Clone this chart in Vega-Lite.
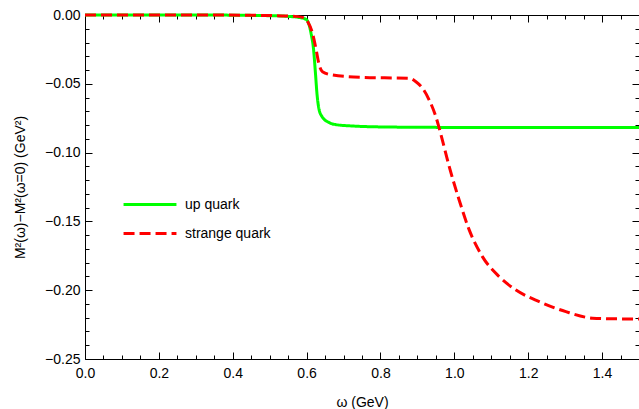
{
  "$schema": "https://vega.github.io/schema/vega-lite/v6.json",
  "width": 554,
  "height": 344,
  "autosize": {"type": "none"},
  "padding": {"left": 85, "top": 15, "right": 0, "bottom": 50},
  "background": "white",
  "config": {
    "view": {"stroke": "#000", "strokeWidth": 1},
    "font": "Liberation Sans",
    "axis": {
      "grid": false,
      "domain": false,
      "tickColor": "#000",
      "tickWidth": 1,
      "labelColor": "#000",
      "labelFont": "Liberation Sans",
      "labelFontSize": 14,
      "titleColor": "#000",
      "titleFont": "Liberation Sans",
      "titleFontSize": 14,
      "titleFontWeight": "normal",
      "labelOverlap": false,
      "labelFlush": false
    },
    "legend": {
      "labelFont": "Liberation Sans",
      "labelFontSize": 14,
      "labelColor": "#000"
    }
  },
  "data": {
    "values": [
      {"w": 0.0, "m": 0.0, "quark": "up quark"},
      {"w": 0.3, "m": 0.0, "quark": "up quark"},
      {"w": 0.5, "m": -0.0005, "quark": "up quark"},
      {"w": 0.55, "m": -0.001, "quark": "up quark"},
      {"w": 0.58, "m": -0.0018, "quark": "up quark"},
      {"w": 0.598, "m": -0.0031, "quark": "up quark"},
      {"w": 0.606, "m": -0.0065, "quark": "up quark"},
      {"w": 0.612, "m": -0.0133, "quark": "up quark"},
      {"w": 0.619, "m": -0.0254, "quark": "up quark"},
      {"w": 0.624, "m": -0.0424, "quark": "up quark"},
      {"w": 0.628, "m": -0.0569, "quark": "up quark"},
      {"w": 0.634, "m": -0.069, "quark": "up quark"},
      {"w": 0.642, "m": -0.0739, "quark": "up quark"},
      {"w": 0.662, "m": -0.0783, "quark": "up quark"},
      {"w": 0.68, "m": -0.0797, "quark": "up quark"},
      {"w": 0.72, "m": -0.0806, "quark": "up quark"},
      {"w": 0.75, "m": -0.081, "quark": "up quark"},
      {"w": 0.85, "m": -0.0815, "quark": "up quark"},
      {"w": 1.0, "m": -0.0817, "quark": "up quark"},
      {"w": 1.5, "m": -0.0818, "quark": "up quark"},
      {"w": 0.0, "m": 0.0, "quark": "strange quark"},
      {"w": 0.3, "m": 0.0, "quark": "strange quark"},
      {"w": 0.5, "m": -0.0004, "quark": "strange quark"},
      {"w": 0.57, "m": -0.001, "quark": "strange quark"},
      {"w": 0.589, "m": -0.0017, "quark": "strange quark"},
      {"w": 0.603, "m": -0.0049, "quark": "strange quark"},
      {"w": 0.616, "m": -0.0133, "quark": "strange quark"},
      {"w": 0.626, "m": -0.0254, "quark": "strange quark"},
      {"w": 0.633, "m": -0.0351, "quark": "strange quark"},
      {"w": 0.643, "m": -0.0412, "quark": "strange quark"},
      {"w": 0.67, "m": -0.0436, "quark": "strange quark"},
      {"w": 0.751, "m": -0.0453, "quark": "strange quark"},
      {"w": 0.878, "m": -0.046, "quark": "strange quark"},
      {"w": 0.896, "m": -0.0485, "quark": "strange quark"},
      {"w": 0.914, "m": -0.0533, "quark": "strange quark"},
      {"w": 0.932, "m": -0.0618, "quark": "strange quark"},
      {"w": 0.95, "m": -0.0739, "quark": "strange quark"},
      {"w": 0.964, "m": -0.0872, "quark": "strange quark"},
      {"w": 0.986, "m": -0.11, "quark": "strange quark"},
      {"w": 1.013, "m": -0.1344, "quark": "strange quark"},
      {"w": 1.04, "m": -0.156, "quark": "strange quark"},
      {"w": 1.076, "m": -0.1756, "quark": "strange quark"},
      {"w": 1.121, "m": -0.19, "quark": "strange quark"},
      {"w": 1.167, "m": -0.1999, "quark": "strange quark"},
      {"w": 1.23, "m": -0.2083, "quark": "strange quark"},
      {"w": 1.302, "m": -0.2156, "quark": "strange quark"},
      {"w": 1.374, "m": -0.2203, "quark": "strange quark"},
      {"w": 1.43, "m": -0.2208, "quark": "strange quark"},
      {"w": 1.5, "m": -0.2209, "quark": "strange quark"}
    ]
  },
  "resolve": {"axis": {"x": "independent", "y": "independent"}},
  "layer": [
    {
      "mark": {"type": "line", "strokeWidth": 3, "clip": false, "interpolate": "monotone"},
      "encoding": {
        "x": {
          "field": "w",
          "type": "quantitative",
          "scale": {"domain": [0, 1.5], "nice": false, "zero": false},
          "axis": {
            "orient": "bottom",
            "values": [0, 0.05, 0.1, 0.15, 0.2, 0.25, 0.3, 0.35, 0.4, 0.45, 0.5, 0.55, 0.6, 0.65, 0.7, 0.75, 0.8, 0.85, 0.9, 0.95, 1.0, 1.05, 1.1, 1.15, 1.2, 1.25, 1.3, 1.35, 1.4, 1.45, 1.5],
            "tickSize": {"condition": {"test": "round(datum.value * 100) % 20 === 0", "value": -7}, "value": -4},
            "labelExpr": "round(datum.value * 100) % 20 === 0 ? format(datum.value, '.1f') : ''",
            "labelPadding": 14,
            "title": "ω (GeV)",
            "titlePadding": 12
          }
        },
        "y": {
          "field": "m",
          "type": "quantitative",
          "scale": {"domain": [-0.25, 0], "nice": false, "zero": false},
          "axis": {
            "orient": "left",
            "values": [-0.25, -0.24, -0.23, -0.22, -0.21, -0.2, -0.19, -0.18, -0.17, -0.16, -0.15, -0.14, -0.13, -0.12, -0.11, -0.1, -0.09, -0.08, -0.07, -0.06, -0.05, -0.04, -0.03, -0.02, -0.01, 0],
            "tickSize": {"condition": {"test": "round(datum.value * 100) % 5 === 0", "value": -7}, "value": -4},
            "labelExpr": "round(datum.value * 100) % 5 === 0 ? replace(format(datum.value, '.2f'), /[-\u2212]/, '\u2212') : ''",
            "labelPadding": 12,
            "title": "M²(ω)−M²(ω=0) (GeV²)",
            "titleX": -65,
            "titleY": 172,
            "titleBaseline": "middle",
            "titleAlign": "center"
          }
        },
        "color": {
          "field": "quark",
          "type": "nominal",
          "scale": {"domain": ["up quark", "strange quark"], "range": ["#00ff00", "#ff0000"]},
          "legend": {
            "title": null,
            "orient": "none",
            "legendX": 37,
            "legendY": 175,
            "padding": 0,
            "symbolType": "stroke",
            "symbolSize": 2800,
            "symbolStrokeWidth": 3,
            "labelOffset": 7,
            "clipHeight": 29,
            "rowPadding": 0
          }
        },
        "strokeDash": {
          "field": "quark",
          "type": "nominal",
          "scale": {"domain": ["up quark", "strange quark"], "range": [[1, 0], [11, 5]]},
          "legend": {
            "title": null,
            "orient": "none",
            "legendX": 37,
            "legendY": 175,
            "padding": 0,
            "symbolType": "stroke",
            "symbolSize": 2800,
            "symbolStrokeWidth": 3,
            "labelOffset": 7,
            "clipHeight": 29,
            "rowPadding": 0
          }
        }
      }
    },
    {
      "mark": {"type": "line", "strokeOpacity": 0},
      "encoding": {
        "x": {
          "field": "w",
          "type": "quantitative",
          "axis": {
            "orient": "top",
            "values": [0, 0.05, 0.1, 0.15, 0.2, 0.25, 0.3, 0.35, 0.4, 0.45, 0.5, 0.55, 0.6, 0.65, 0.7, 0.75, 0.8, 0.85, 0.9, 0.95, 1.0, 1.05, 1.1, 1.15, 1.2, 1.25, 1.3, 1.35, 1.4, 1.45, 1.5],
            "tickSize": {"condition": {"test": "round(datum.value * 100) % 20 === 0", "value": -7}, "value": -4},
            "labels": false,
            "title": null
          }
        },
        "y": {
          "field": "m",
          "type": "quantitative",
          "axis": {
            "orient": "right",
            "values": [-0.25, -0.24, -0.23, -0.22, -0.21, -0.2, -0.19, -0.18, -0.17, -0.16, -0.15, -0.14, -0.13, -0.12, -0.11, -0.1, -0.09, -0.08, -0.07, -0.06, -0.05, -0.04, -0.03, -0.02, -0.01, 0],
            "tickSize": {"condition": {"test": "round(datum.value * 100) % 5 === 0", "value": -7}, "value": -4},
            "labels": false,
            "title": null
          }
        },
        "detail": {"field": "quark", "type": "nominal"}
      }
    }
  ]
}
